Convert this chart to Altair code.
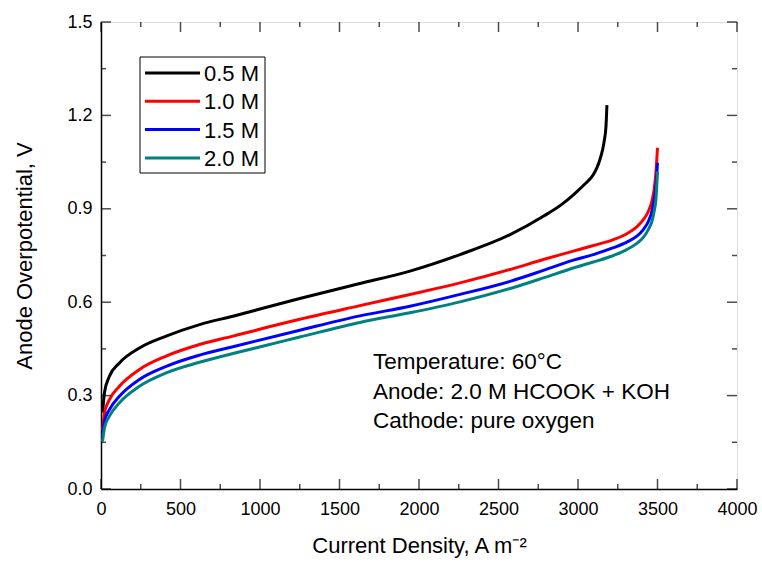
import altair as alt
import pandas as pd

labels = ["0.5 M", "1.0 M", "1.5 M", "2.0 M"]
colors = ["#000000", "#ff0000", "#0000ff", "#008080"]

x_black = [10, 22, 53, 116, 242, 410, 620, 830, 1250, 1628, 1943, 2258, 2573, 2782, 2900, 2971, 3040, 3097, 3120, 3139, 3164, 3176, 3182]
y_black = [0.245, 0.31, 0.362, 0.405, 0.453, 0.491, 0.528, 0.555, 0.612, 0.66, 0.70, 0.753, 0.817, 0.876, 0.915, 0.945, 0.978, 1.01, 1.033, 1.06, 1.115, 1.165, 1.233]

x_other = [10, 22, 53, 116, 242, 410, 620, 830, 1250, 1628, 1943, 2258, 2573, 2782, 2971, 3097, 3223, 3307, 3370, 3412, 3443, 3465, 3479, 3490, 3500]
y_red = [0.19, 0.245, 0.287, 0.33, 0.384, 0.427, 0.464, 0.491, 0.545, 0.589, 0.625, 0.662, 0.705, 0.737, 0.764, 0.782, 0.801, 0.82, 0.842, 0.866, 0.892, 0.925, 0.962, 1.016, 1.096]
y_blue = [0.17, 0.218, 0.255, 0.298, 0.352, 0.394, 0.43, 0.457, 0.51, 0.556, 0.587, 0.625, 0.667, 0.702, 0.735, 0.753, 0.775, 0.793, 0.812, 0.834, 0.86, 0.892, 0.93, 0.973, 1.048]
y_teal = [0.153, 0.197, 0.234, 0.277, 0.33, 0.373, 0.407, 0.435, 0.488, 0.535, 0.566, 0.601, 0.644, 0.678, 0.71, 0.729, 0.75, 0.769, 0.789, 0.809, 0.834, 0.86, 0.892, 0.93, 1.02]

x_major = [0, 500, 1000, 1500, 2000, 2500, 3000, 3500, 4000]
x_minor = [250, 750, 1250, 1750, 2250, 2750, 3250, 3750]
y_major = [0.0, 0.3, 0.6, 0.9, 1.2, 1.5]
y_minor = [0.15, 0.45, 0.75, 1.05, 1.35]

notes = ["Temperature: 60°C", "Anode: 2.0 M HCOOK + KOH", "Cathode: pure oxygen"]

series = [
    (labels[0], x_black, y_black),
    (labels[1], x_other, y_red),
    (labels[2], x_other, y_blue),
    (labels[3], x_other, y_teal),
]
rows = []
for lab, xs_, ys_ in series:
    for i, (a, b) in enumerate(zip(xs_, ys_)):
        rows.append({"x": a, "y": b, "conc": lab, "i": i})
df = pd.DataFrame(rows)

W, H = 636, 467
FONT = "Liberation Sans"
xsc = alt.Scale(domain=[0, 4000], nice=False, zero=False)
ysc = alt.Scale(domain=[0, 1.5], nice=False, zero=False)

common = dict(ticks=False, grid=False, labelFontSize=18, titleFontSize=22, labelFlush=False,
              labelFont=FONT, titleFont=FONT, titleFontWeight="normal", domainColor="black",
              domainWidth=1.5, labelColor="black", titleColor="black")
x_axis = alt.Axis(title="Current Density, A m⁻²", values=x_major, format="d",
                  labelPadding=11, titlePadding=17, **common)
y_axis = alt.Axis(title="Anode Overpotential, V", values=y_major, format=".1f",
                  labelPadding=9, titlePadding=30, **common)

lines = alt.Chart(df).mark_line(strokeWidth=3, interpolate="monotone", clip=True).encode(
    x=alt.X("x:Q", scale=xsc, axis=x_axis),
    y=alt.Y("y:Q", scale=ysc, axis=y_axis),
    color=alt.Color("conc:N", scale=alt.Scale(domain=labels, range=colors), legend=None),
    order="i:Q",
)


def ticks(vals, axis, major):
    size = 10 if major else 5
    layers = []
    if axis == "x":
        d = pd.DataFrame({"x": vals})
        for ypos in [H - size / 2, size / 2]:
            layers.append(alt.Chart(d).mark_tick(orient="vertical", size=size, thickness=1.5, color="black").encode(
                x=alt.X("x:Q", scale=xsc, axis=x_axis), y=alt.value(ypos)))
    else:
        d = pd.DataFrame({"y": vals})
        for xpos in [size / 2, W - size / 2]:
            layers.append(alt.Chart(d).mark_tick(orient="horizontal", size=size, thickness=1.5, color="black").encode(
                y=alt.Y("y:Q", scale=ysc, axis=y_axis), x=alt.value(xpos)))
    return layers


tick_layers = (ticks(x_major, "x", True) + ticks(x_minor, "x", False)
               + ticks(y_major, "y", True) + ticks(y_minor, "y", False))

# legend drawn by hand: frame, coloured strokes, labels
one = pd.DataFrame({"a": [0]})
legend_layers = [alt.Chart(one).mark_rect(fill="white", stroke="black", strokeWidth=1).encode(
    x=alt.value(39), x2=alt.value(164), y=alt.value(35), y2=alt.value(151))]
for k, (lab, col) in enumerate(zip(labels, colors)):
    yy = 51 + 28.3 * k
    d = pd.DataFrame({"lab": [lab]})
    legend_layers.append(alt.Chart(d).mark_rule(strokeWidth=3, color=col).encode(
        x=alt.value(44), x2=alt.value(99), y=alt.value(yy)))
    legend_layers.append(alt.Chart(d).mark_text(
        align="left", baseline="middle", fontSize=22, font=FONT, color="black").encode(
        x=alt.value(103), y=alt.value(yy + 1), text="lab:N"))

ann = alt.Chart(pd.DataFrame({"t": ["\n".join(notes)]})).mark_text(
    align="left", baseline="alphabetic", fontSize=22.5, font=FONT, lineBreak="\n",
    lineHeight=29.5, color="black").encode(
    x=alt.value(272), y=alt.value(347), text="t:N")

chart = alt.layer(lines, *tick_layers, *legend_layers, ann).properties(
    width=W, height=H,
    autosize=alt.AutoSizeParams(type="none"),
    padding={"left": 101, "top": 22, "right": 25, "bottom": 76},
).configure_view(stroke="black", strokeWidth=1.5).configure(background="white")

chart.save("out.html", embed_options={"renderer": "svg", "actions": False})
